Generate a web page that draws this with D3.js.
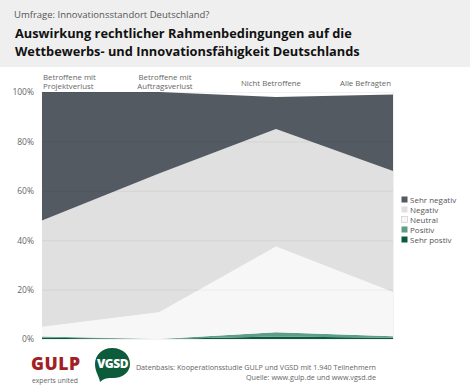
<!DOCTYPE html>
<html><head><meta charset="utf-8">
<script src="https://cdn.jsdelivr.net/npm/d3@7"></script>
<style>
html,body{margin:0;padding:0;background:#fff;}
svg{display:block;font-family:"Open Sans",sans-serif;}
</style></head>
<body><svg id="c" width="470" height="392"></svg>
<script>
const categories = ["Betroffene mit Projektverlust","Betroffene mit Auftragsverlust","Nicht Betroffene","Alle Befragten"];
const categoryLines = [["Betroffene mit","Projektverlust"],["Betroffene mit","Auftragsverlust"],["Nicht Betroffene"],["Alle Befragten"]];
const seriesNames = ["Sehr postiv","Positiv","Neutral","Negativ","Sehr negativ"];
const sehrPositiv = [0.5, 0, 1.0, 0.5];
const positiv     = [0.5, 0, 1.7, 0.6];
const neutral     = [4.0, 10.8, 34.7, 17.9];
const negativ     = [43.0, 56.2, 47.6, 49.0];
const sehrNegativ = [52.0, 33.0, 13.0, 31.0];
const yTicks = [0,20,40,60,80,100];
const colors = ["#0b5a40","#5e9e87","#f7f7f7","#e0e0e0","#535a62"];

const svg = d3.select("#c");
// header band
svg.append("rect").attr("x",0).attr("y",0).attr("width",470).attr("height",67).attr("fill","#efefef");
svg.append("text").attr("x",14).attr("y",18).attr("font-size",9.5).attr("fill","#555").text("Umfrage: Innovationsstandort Deutschland?");
svg.append("text").attr("x",15).attr("y",38).attr("font-size",12.8).attr("font-weight",700).attr("fill","#111").text("Auswirkung rechtlicher Rahmenbedingungen auf die");
svg.append("text").attr("x",15).attr("y",56).attr("font-size",12.8).attr("font-weight",700).attr("fill","#111").text("Wettbewerbs- und Innovationsfähigkeit Deutschlands");

const data = categories.map((c,i)=>({cat:c,"Sehr postiv":sehrPositiv[i],"Positiv":positiv[i],"Neutral":neutral[i],"Negativ":negativ[i],"Sehr negativ":sehrNegativ[i]}));
const x = d3.scalePoint().domain(categories).range([42,393]);
const y = d3.scaleLinear().domain([0,100]).range([339,92]);
const stack = d3.stack().keys(seriesNames)(data);
const area = d3.area().x(d=>x(d.data.cat)).y0(d=>y(d[0])).y1(d=>y(d[1]));

svg.append("g").selectAll("path").data(stack).join("path")
  .attr("d",area).attr("fill",(d,i)=>colors[i]);

// gridlines on top
svg.append("g").selectAll("line").data(yTicks).join("line")
  .attr("x1",42).attr("x2",393).attr("y1",d=>y(d)+0.5).attr("y2",d=>y(d)+0.5)
  .attr("stroke","rgba(0,0,0,0.05)");
svg.append("line").attr("x1",393.5).attr("x2",393.5).attr("y1",92).attr("y2",339).attr("stroke","rgba(0,0,0,0.06)");

// y axis
const yAxis = svg.append("g").attr("transform","translate(34,0)")
  .call(d3.axisLeft(y).tickValues(yTicks).tickFormat(d=>d+"%").tickSize(0).tickPadding(0));
yAxis.select(".domain").remove();
yAxis.selectAll("text").attr("font-size",8.5).attr("fill","#666").attr("font-family","Open Sans, sans-serif").attr("dy","0.35em");

// category labels
const anchors = ["start","middle","middle","end"];
const offs = [1,6,-5,-2];
categories.forEach((c,i)=>{
  const lines = categoryLines[i];
  const t = svg.append("text").attr("font-size",7.8).attr("fill","#666").attr("text-anchor",anchors[i]);
  lines.forEach((l,j)=>{
    t.append("tspan").attr("x",x(c)+offs[i]).attr("y",(lines.length===1?86:80)+j*9).text(l);
  });
});

// legend
const legendOrder = ["Sehr negativ","Negativ","Neutral","Positiv","Sehr postiv"];
legendOrder.forEach((n,i)=>{
  const ci = seriesNames.indexOf(n);
  const yy = 200 + i*10;
  svg.append("rect").attr("x",401.5).attr("y",yy-3.5).attr("width",6).attr("height",6)
    .attr("fill",colors[ci]).attr("stroke",n==="Neutral"?"#ccc":"none").attr("stroke-width",0.7);
  svg.append("text").attr("x",410).attr("y",yy+3).attr("font-size",8).attr("fill","#555").text(n);
});

// footer logos
svg.append("text").attr("x",31).attr("y",370).attr("font-size",17.5).attr("font-weight",800).attr("fill","#a31f26").attr("letter-spacing",0.5).text("GULP");
svg.append("text").attr("x",32).attr("y",383).attr("font-size",6.8).attr("fill","#666").text("experts united");
svg.append("path").attr("d","M112,348 C124,348 130,356 130,364 C130,372 123,378 113,378 C108,378 104,378 100,382 C100,378 95,372 95,364 C95,355 102,348 112,348 Z").attr("fill","#0c5c3c");
svg.append("text").attr("x",112.5).attr("y",368).attr("text-anchor","middle").attr("font-size",12).attr("font-weight",800).attr("fill","#fff").attr("letter-spacing",-0.5).text("VGSD");
svg.append("text").attr("x",376).attr("y",370).attr("text-anchor","end").attr("font-size",7.2).attr("fill","#666").text("Datenbasis: Kooperationsstudie GULP und VGSD mit 1.940 Teilnehmern");
svg.append("text").attr("x",376).attr("y",379.5).attr("text-anchor","end").attr("font-size",7.2).attr("fill","#666").text("Quelle: www.gulp.de und www.vgsd.de");
</script></body></html>
